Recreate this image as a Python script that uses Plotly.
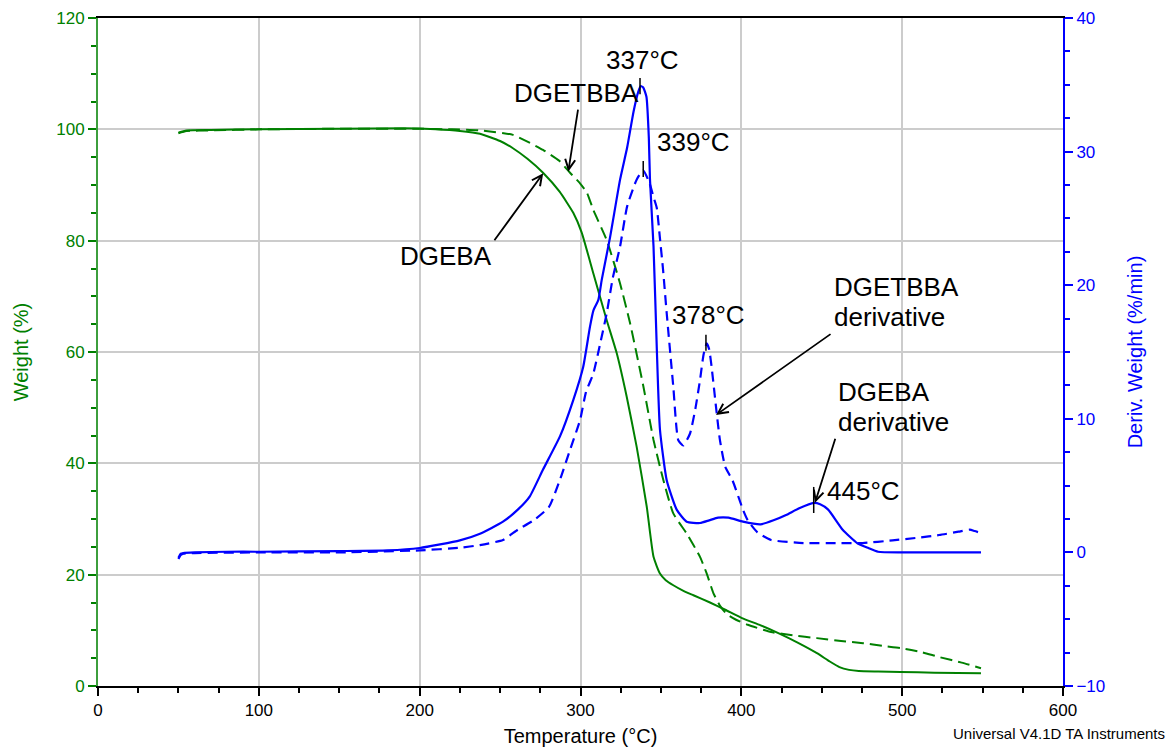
import plotly.graph_objects as go

# ---------------- data ----------------
# DGEBA weight (%) - solid green
t_w_dgeba = [50, 55, 70, 100, 150, 190, 210, 225, 237.5, 250, 258, 267, 276.7, 287, 295.5,
             300.7, 308, 316.3, 322.5, 328.7, 334.9, 341.2, 345.4, 349.4, 353, 357.7, 364,
             370.2, 380.5, 390, 400.4, 412, 423, 435, 447, 455, 461, 467, 473, 485, 499, 520, 549]
w_dgeba = [99.4, 99.8, 99.9, 100.0, 100.1, 100.2, 100.0, 99.7, 99.2, 97.9, 96.6, 94.7, 92.2, 88.8, 85.0,
           81.5, 74.1, 65.7, 59.8, 52.0, 43.0, 32.2, 23.2, 20.2, 19.0, 18.1, 17.1,
           16.3, 15.0, 13.7, 12.2, 10.9, 9.5, 7.8, 5.9, 4.4, 3.4, 2.9, 2.7, 2.6, 2.5, 2.4, 2.3]

# DGETBBA weight (%) - dashed green
t_w_dgetbba = [50, 55, 70, 100, 150, 200, 220, 237.5, 258, 276.7, 287, 293.5, 299.7, 304, 308,
               316.3, 324.6, 330.8, 339.1, 345.4, 351.5, 357.7, 366, 374.3, 378.5, 382.6, 387,
               391, 396.7, 404, 418.5, 432, 447, 462, 475.7, 488, 499.3, 512, 523, 537, 549]
w_dgetbba = [99.3, 99.7, 99.8, 100.0, 100.1, 100.1, 100.0, 99.8, 99.0, 96.3, 94.3, 92.2, 90.3, 88.6, 85.5,
             80.1, 72.3, 65.2, 53.8, 44.2, 37.0, 31.0, 27.4, 23.2, 20.2, 16.7, 14.3,
             12.9, 11.9, 11.0, 9.7, 9.1, 8.6, 8.1, 7.7, 7.2, 6.8, 6.1, 5.2, 4.2, 3.2]

# DGEBA derivative (%/min) - solid blue
t_d_dgeba = [50, 51.5, 53, 60, 80, 100, 150, 180, 200, 225, 237.5, 251.8, 261, 268.5, 276.7, 287.3,
             295.5, 301.7, 305.9, 308, 311.1, 313.2, 318.4, 324.6, 329, 333, 336, 337.5, 339, 341,
             342.5, 343.2, 345.4, 347.4, 349.4, 353.6, 359.8, 366, 374.3, 380, 385.5, 392, 401, 412,
             420, 427.8, 436, 445, 449, 454, 463, 472, 479, 485, 500, 549]
d_dgeba = [-0.4, -0.1, -0.05, 0.0, 0.05, 0.05, 0.1, 0.15, 0.33, 0.9, 1.4, 2.3, 3.2, 4.2, 6.2, 8.7,
           11.4, 13.9, 16.9, 18.1, 18.9, 20.4, 23.6, 27.9, 30.3, 33.0, 34.5, 34.9, 34.8, 34.1,
           31.0, 27.9, 22.9, 15.4, 9.2, 5.4, 3.2, 2.3, 2.2, 2.4, 2.6, 2.6, 2.3, 2.1,
           2.4, 2.8, 3.3, 3.7, 3.6, 3.2, 1.7, 0.7, 0.33, 0.05, 0.0, 0.0]

# DGETBBA derivative (%/min) - dashed blue
t_d_dgetbba = [50, 51.5, 53, 60, 100, 150, 200, 225, 237.5, 251.8, 261, 270.8, 280.4, 287.4, 293,
               299.7, 303.4, 308, 312, 316.3, 320, 324.6, 329, 334.9, 339, 343, 345.4, 347.4, 349.4,
               351.3, 353.6, 357.7, 360.8, 363.9, 368.1, 371.5, 374.3, 376.5, 378.5, 380, 381.5,
               384.7, 386.7, 390, 394.5, 401, 404, 410, 418.5, 438.7, 460.8, 475.5, 494, 510, 523,
               535, 542, 545, 549]
d_dgetbba = [-0.5, -0.2, -0.1, -0.05, 0.0, 0.0, 0.15, 0.35, 0.55, 0.93, 1.7, 2.4, 3.4, 5.5, 7.5,
             9.9, 12.0, 13.4, 15.5, 17.9, 20.5, 22.9, 25.9, 27.9, 28.6, 27.6, 26.6, 25.8, 23.5,
             21.2, 17.9, 12.4, 8.4, 8.0, 8.9, 10.8, 12.9, 14.8, 15.65, 15.2, 13.9,
             10.4, 8.4, 6.4, 5.4, 3.2, 2.4, 1.5, 0.93, 0.7, 0.7, 0.7, 0.9, 1.1, 1.3,
             1.55, 1.7, 1.6, 1.45]

# peak labels (temperature, derivative value)
peak_t = [337, 339, 378, 445]
peak_d = [34.8, 28.6, 15.6, 3.7]

x_ticks = [0, 100, 200, 300, 400, 500, 600]
y_ticks = [0, 20, 40, 60, 80, 100, 120]
y2_ticks = [-10, 0, 10, 20, 30, 40]

# ---------------- styles ----------------
FONT = "Liberation Sans, Arial, sans-serif"
GREEN = "#008000"
GREEN_AXIS = "#3c9e3c"
BLUE = "#0000ff"
GRID = "#cccccc"
SMOOTH = 0.5

fig = go.Figure()
fig.add_trace(go.Scatter(x=t_w_dgeba, y=w_dgeba, mode="lines", name="DGEBA",
                         line=dict(color=GREEN, width=2, shape="spline", smoothing=SMOOTH)))
fig.add_trace(go.Scatter(x=t_w_dgetbba, y=w_dgetbba, mode="lines", name="DGETBBA",
                         line=dict(color=GREEN, width=2, dash="12px,6px", shape="spline",
                                   smoothing=SMOOTH)))
fig.add_trace(go.Scatter(x=t_d_dgeba, y=d_dgeba, mode="lines", name="DGEBA derivative",
                         yaxis="y2", line=dict(color=BLUE, width=2.2, shape="spline",
                                               smoothing=SMOOTH)))
fig.add_trace(go.Scatter(x=t_d_dgetbba, y=d_dgetbba, mode="lines", name="DGETBBA derivative",
                         yaxis="y2", line=dict(color=BLUE, width=2.2, dash="10px,6px",
                                               shape="spline", smoothing=SMOOTH)))

# peak markers (short vertical lines)
up = [0.7, 0.7, 0.7, 1.2]
down = [0.5, 0.5, 0.5, 0.75]
shapes = []
for t, d, u, dn in zip(peak_t, peak_d, up, down):
    shapes.append(dict(type="line", xref="x", yref="y2", x0=t, x1=t, y0=d - dn, y1=d + u,
                       line=dict(color="black", width=1.5)))

ann = []
lab_font = dict(family=FONT, size=26, color="black")
# peak texts
peak_text_pos = [(338.6, 112.5, "center"), (370.3, 97.7, "center"), (379.3, 66.6, "center"),
                 (452.0, 35.0, "left")]
for (x, y, xa), t in zip(peak_text_pos, peak_t):
    ann.append(dict(x=x, y=y, xref="x", yref="y", text=f"{t}°C", showarrow=False,
                    xanchor=xa, yanchor="middle", font=lab_font))
# curve labels
labels = [(297.5, 106.5, "DGETBBA", "center"), (216.1, 77.2, "DGEBA", "center"),
          (456.4, 71.7, "DGETBBA", "left"), (456.4, 66.3, "derivative", "left"),
          (458.9, 52.8, "DGEBA", "left"), (458.9, 47.4, "derivative", "left")]
for x, y, txt, xa in labels:
    ann.append(dict(x=x, y=y, xref="x", yref="y", text=txt, showarrow=False,
                    xanchor=xa, yanchor="middle", font=lab_font))
# arrows: (tail x, tail y, head x, head y)
arrows = [(298.6, 103.8, 292.4, 92.4), (245.8, 79.8, 276.8, 92.1),
          (456.4, 63.4, 384.3, 48.7), (458.7, 44.7, 445.8, 32.9)]
for ax, ay, x, y in arrows:
    ann.append(dict(x=x, y=y, ax=ax, ay=ay, xref="x", yref="y", axref="x", ayref="y",
                    text="", showarrow=True, arrowhead=5, arrowsize=1.1, arrowwidth=1.8,
                    arrowcolor="black", standoff=0, startstandoff=0))
ann.append(dict(x=1.1078, y=-0.0704, xref="paper", yref="paper", xanchor="right", yanchor="middle",
                text="Universal V4.1D TA Instruments", showarrow=False,
                font=dict(family=FONT, size=15, color="black")))

fig.update_layout(
    width=1176, height=751,
    margin=dict(l=98, r=113, t=18, b=65, autoexpand=False),
    plot_bgcolor="white", paper_bgcolor="white",
    showlegend=False,
    font=dict(family=FONT),
    shapes=shapes,
    annotations=ann,
    xaxis=dict(range=[0, 600], tickvals=x_ticks, ticks="outside", ticklen=8, tickwidth=1.5,
               tickcolor="black", showline=True, linecolor="black", linewidth=1.5, mirror=True,
               showgrid=True, gridcolor=GRID, gridwidth=1.5, zeroline=False,
               tickfont=dict(family=FONT, size=17, color="black"),
               minor=dict(dtick=25, ticks="outside", ticklen=5, tickcolor="black", showgrid=False),
               title=dict(text="Temperature (°C)", font=dict(family=FONT, size=20, color="black"),
                          standoff=10)),
    yaxis=dict(range=[0, 120], tickvals=y_ticks, ticks="outside", ticklen=8, tickwidth=1.5,
               tickcolor=GREEN, showline=True, linecolor=GREEN_AXIS, linewidth=2,
               showgrid=True, gridcolor=GRID, gridwidth=1.5, zeroline=False,
               tickfont=dict(family=FONT, size=17, color=GREEN),
               minor=dict(dtick=5, ticks="outside", ticklen=5, tickcolor=GREEN, showgrid=False),
               title=dict(text="Weight (%)", font=dict(family=FONT, size=20, color=GREEN),
                          standoff=22)),
    yaxis2=dict(range=[-10, 40], tickvals=y2_ticks, overlaying="y", side="right",
                ticks="outside", ticklen=8, tickwidth=1.5, tickcolor=BLUE,
                showline=True, linecolor=BLUE, linewidth=2, showgrid=False, zeroline=False,
                tickfont=dict(family=FONT, size=17, color=BLUE),
                minor=dict(dtick=2.5, ticks="outside", ticklen=5, tickcolor=BLUE, showgrid=False),
                title=dict(text="Deriv. Weight (%/min)", font=dict(family=FONT, size=20, color=BLUE),
                           standoff=24)),
)

fig.write_html("out.html")
